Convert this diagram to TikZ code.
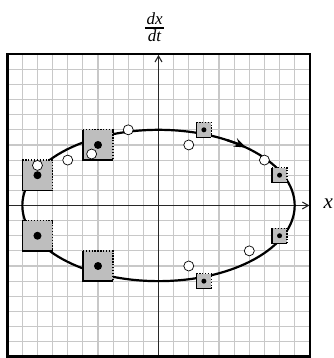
\documentclass[tikz,border=0pt]{standalone}
\usepackage{fontspec}
\setmainfont{Liberation Serif}
\usetikzlibrary{arrows.meta}
\begin{document}
\begin{tikzpicture}[x=15.13pt,y=15.13pt,
  gridline/.style={draw={rgb,255:red,200;green,200;blue,200},line width=1.1pt},
  axisline/.style={draw={rgb,255:red,40;green,40;blue,40},line width=1.1pt,-{Straight Barb[length=6pt,width=7pt]}},
  cell/.style={fill={rgb,255:red,190;green,190;blue,190}},
  solidedge/.style={line width=1.4pt},
  dotedge/.style={line width=1.3pt,dash pattern=on 1.3pt off 1.6pt},
  bigdot/.style={circle,fill=black,inner sep=0pt,minimum size=8pt},
  smalldot/.style={circle,fill=black,inner sep=0pt,minimum size=5pt},
  opendot/.style={circle,draw=black,fill=white,line width=0.7pt,inner sep=0pt,minimum size=10pt},
  lbl/.style={font=\fontsize{21}{24}\selectfont\itshape},
  fraclbl/.style={font=\fontsize{17}{20}\selectfont\itshape,inner sep=0pt,anchor=base}
]
\useasboundingbox (-10.476,-10.08) rectangle (11.533,13.58);
% grid
\draw[gridline,step=15.13pt] (-10,-10) grid (10,10);
% axes
\coordinate (xl) at (-10,0); \coordinate (xr) at (9.97,0);
\coordinate (yb) at (0,-10); \coordinate (yt) at (0,9.95);
\draw[axisline] (xl) -- (xr);
\draw[axisline] (yb) -- (yt);
% frame
\draw[line width=2.6pt] (-10,-10) rectangle (10,10);
% ellipse
\draw[line width=2.2pt] (0,0) ellipse [x radius=9, y radius=5];
\draw[line width=2.2pt,-{Stealth[length=12pt,width=9pt,inset=4pt]}] ({9*cos(60)},{5*sin(60)}) arc[start angle=60,end angle=50,x radius=9,y radius=5];
% squares: lower-left x, lower-left y, size
\foreach \x/\y/\s in {-9/1/2,-9/-3/2,-5/3/2,-5/-5/2,2.5/4.5/1,7.5/1.5/1,7.5/-2.5/1,2.5/-5.5/1}{
  \fill[cell] (\x,\y) rectangle ++(\s,\s);
  \draw[solidedge] (\x,\y+\s) -- (\x,\y) -- (\x+\s,\y);
  \draw[dotedge] (\x,\y+\s) -- (\x+\s,\y+\s) -- (\x+\s,\y);
}
% centre dots
\node[bigdot] (d1) at (-8,2) {};
\node[bigdot] (d2) at (-8,-2) {};
\node[bigdot] (d3) at (-4,4) {};
\node[bigdot] (d4) at (-4,-4) {};
\node[smalldot] (d5) at (3,5) {};
\node[smalldot] (d6) at (8,2) {};
\node[smalldot] (d7) at (8,-2) {};
\node[smalldot] (d8) at (3,-5) {};
% open circles
\node[opendot] (o1) at (-8,2.65) {};
\node[opendot] (o2) at (-4.42,3.4) {};
\node[opendot] (o3) at (-6,3) {};
\node[opendot] (o4) at (-2,5) {};
\node[opendot] (o5) at (2,4) {};
\node[opendot] (o6) at (7,3) {};
\node[opendot] (o7) at (6,-3) {};
\node[opendot] (o8) at (2,-4) {};
% labels
\node[lbl] (xlab) at (11.22,0.15) {x};
\node[fraclbl] (num) at (-0.26,11.93) {dx};
\node[fraclbl] (den) at (-0.26,10.82) {dt};
\coordinate (barl) at (-0.9,11.73); \coordinate (barr) at (0.38,11.73);
\draw[line width=1.1pt] (barl) -- (barr);
\end{tikzpicture}
\end{document}
